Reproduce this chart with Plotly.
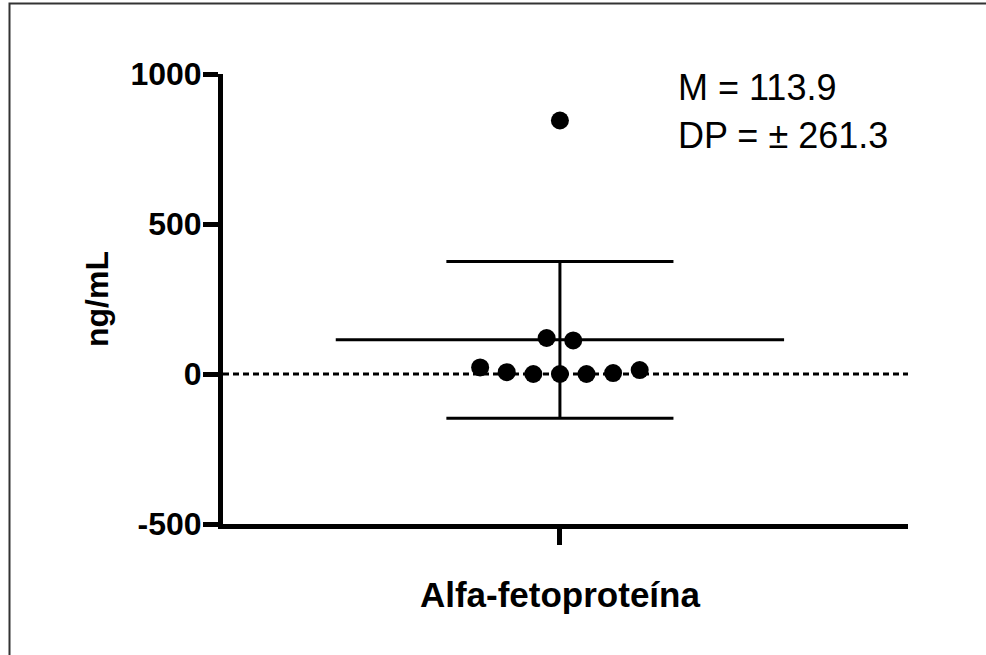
import plotly.graph_objects as go

# ---- data ----
category = ["Alfa-fetoproteína"]
point_offsets = [0, -0.5, 0.5, -3, -2, -1, 0, 1, 2, 3]
point_values = [845, 120, 112, 22, 6, 0, 0, 0, 3, 13]
mean_value = 113.9
sd_value = 261.3
y_tickvals = [-500, 0, 500, 1000]
y_ticktext = ["-500", "0", "500", "1000"]
annot_lines = ["M = 113.9", "DP = \u00b1 261.3"]

FONT = "Liberation Sans, Arial, sans-serif"
MEAN_HALF = 8.43
CAP_HALF = 4.27

fig = go.Figure()

# points
fig.add_trace(go.Scatter(
    x=point_offsets, y=point_values, mode="markers",
    marker=dict(size=18, color="black"), showlegend=False, hoverinfo="y"))

# mean line
fig.add_trace(go.Scatter(
    x=[-MEAN_HALF, MEAN_HALF], y=[mean_value, mean_value], mode="lines",
    line=dict(color="black", width=3), showlegend=False, hoverinfo="skip"))
# SD vertical
fig.add_trace(go.Scatter(
    x=[0, 0], y=[mean_value - sd_value, mean_value + sd_value], mode="lines",
    line=dict(color="black", width=3), showlegend=False, hoverinfo="skip"))
# SD caps
for v in (mean_value - sd_value, mean_value + sd_value):
    fig.add_trace(go.Scatter(
        x=[-CAP_HALF, CAP_HALF], y=[v, v], mode="lines",
        line=dict(color="black", width=3), showlegend=False, hoverinfo="skip"))

# zero dotted line
fig.add_shape(type="line", xref="paper", yref="y", x0=0, x1=1, y0=0, y1=0,
              line=dict(color="black", width=3, dash="6px,4px"), layer="below")

# page border (extends past right/bottom edge)
L, R, T, B = 223, 78, 74, 131
pw, ph = 986 - L - R, 655 - T - B
fig.add_shape(type="rect", xref="paper", yref="paper",
              x0=(9.5 - L) / pw, x1=1.3, y0=-0.5, y1=(655 - B - 3.5) / ph,
              line=dict(color="#333333", width=2))

fig.add_annotation(text=annot_lines[0], xref="paper", yref="paper",
                   x=(676 - L) / pw, y=(655 - B - 87.5) / ph, xanchor="left", yanchor="middle",
                   showarrow=False, font=dict(family=FONT, size=36, color="black"))
fig.add_annotation(text=annot_lines[1], xref="paper", yref="paper",
                   x=(676 - L) / pw, y=(655 - B - 135) / ph, xanchor="left", yanchor="middle",
                   showarrow=False, font=dict(family=FONT, size=36, color="black"))

fig.update_layout(
    width=986, height=655,
    margin=dict(l=L, r=R, t=T, b=B),
    paper_bgcolor="white", plot_bgcolor="white",
    font=dict(family=FONT, color="black"),
    xaxis=dict(
        range=[-12.67, 13.09], tickvals=[0], ticktext=category,
        showgrid=False, zeroline=False, showline=True, linecolor="black",
        linewidth=5, ticks="outside", ticklen=16, tickwidth=5, tickcolor="black",
        tickfont=dict(family=FONT, size=35, color="black", weight="bold"),
        ticklabelstandoff=20,
    ),
    yaxis=dict(
        range=[-500, 1000], tickvals=y_tickvals, ticktext=y_ticktext,
        showgrid=False, zeroline=False, showline=True, linecolor="black",
        linewidth=5, ticks="outside", ticklen=15, tickwidth=5, tickcolor="black",
        tickfont=dict(family=FONT, size=32, color="black", weight="bold"),
        ticklabelstandoff=-5,
        title=dict(text="ng/mL", font=dict(family=FONT, size=32, color="black", weight="bold"),
                   standoff=14),
    ),
)

fig.write_html("out.html")
